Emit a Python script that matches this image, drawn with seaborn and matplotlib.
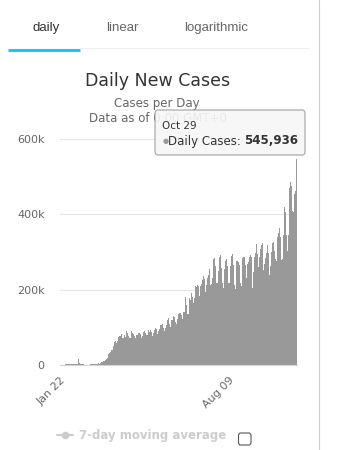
import matplotlib
matplotlib.use('Agg')
import matplotlib.pyplot as plt
import matplotlib.patches as mpatches
import matplotlib.lines as mlines
import seaborn as sns
import pandas as pd

# daily new cases worldwide 2020, in thousands, one list per month
jan = [0.1, 0.3, 0.3, 0.7, 0.8, 0.8, 1.8, 1.5, 2.0, 2.1]
feb = [2.6, 2.8, 3.2, 3.9, 3.7, 3.2, 3.4, 2.7, 3.1, 2.6, 2.0, 2.0,
       15.1, 6.5, 2.1, 2.6, 2.1, 1.9, 1.8, 0.6, 1.0, 0.8, 0.7, 0.9,
       1.0, 1.2, 1.4, 1.9, 1.8]
mar = [2.0, 2.2, 2.5, 2.3, 2.8, 3.9, 4.0, 3.9, 4.0, 4.6, 7.3, 7.5,
       10.6, 10.9, 11.0, 14.0, 16.5, 19.1, 28.4, 32.5, 31.2, 33.5, 41.0,
       40.6, 49.4, 62.0, 63.0, 64.5, 58.6, 63.5, 74.5]
apr = [76.2, 78.0, 82.4, 82.0, 73.0, 72.8, 78.9, 73.5, 86.0, 89.7, 85.6,
       77.5, 70.6, 72.3, 81.0, 90.8, 84.5, 81.7, 77.6, 72.1, 76.3, 80.9,
       80.3, 85.0, 86.0, 82.3, 71.0, 70.6, 76.0, 86.7]
may = [89.9, 84.5, 79.2, 78.4, 80.9, 93.0, 88.6, 92.3, 86.7, 77.9, 75.8,
       85.8, 93.9, 98.4, 96.5, 93.1, 82.0, 90.5, 96.7, 105.2, 107.5, 109.2,
       104.6, 97.9, 89.4, 98.0, 105.5, 119.2, 127.2, 124.7, 109.3]
jun = [101.7, 118.4, 120.7, 128.1, 130.3, 128.4, 113.6, 108.1, 122.4, 136.6,
       139.5, 138.1, 137.1, 133.3, 121.4, 140.1, 142.3, 140.5, 181.5, 158.7,
       134.2, 134.6, 168.8, 177.6, 172.5, 192.3, 181.7, 164.3, 158.8, 178.4]
jul = [210.4, 207.4, 211.9, 208.5, 183.9, 172.4, 211.0, 215.5, 226.9, 236.8,
       228.8, 195.6, 193.8, 213.0, 230.8, 237.7, 255.3, 238.2, 213.2, 216.0,
       232.0, 282.0, 284.6, 289.4, 264.0, 218.8, 219.0, 250.1, 286.8, 290.8,
       293.5]
aug = [258.5, 217.5, 205.1, 255.7, 275.4, 284.6, 281.2, 263.1, 216.6, 218.3,
       261.6, 283.8, 289.8, 293.8, 266.2, 211.8, 202.7, 258.5, 275.9, 277.3,
       273.7, 266.3, 218.1, 210.8, 260.7, 285.2, 286.2, 286.5, 266.8, 231.3,
       228.8]
sep = [268.9, 273.5, 285.6, 292.2, 285.7, 239.3, 205.0, 246.5, 287.0, 297.9,
       322.0, 295.4, 254.8, 260.5, 286.6, 306.9, 317.7, 323.0, 290.4, 253.3,
       268.3, 283.9, 298.3, 319.7, 327.9, 296.8, 238.0, 262.4, 299.1, 323.0]
oct_ = [318.0, 326.0, 302.8, 282.5, 276.7, 338.7, 350.9, 366.3, 362.4, 341.0,
        278.6, 281.0, 346.0, 385.8, 418.2, 407.1, 346.0, 302.0, 345.2, 413.5,
        470.0, 487.0, 475.0, 410.0, 405.0, 415.0, 455.0, 462.0, 545.936]

tabs = ['daily', 'linear', 'logarithmic']
tick_days = [0, 200]
tick_labels = ['Jan 22', 'Aug 09']
y_ticks = [0, 200, 400, 600]
y_labels = ['0', '200k', '400k', '600k']

cases = jan + feb + mar + apr + may + jun + jul + aug + sep + oct_
dates = pd.date_range('2020-01-22', periods=len(cases))
df = pd.DataFrame({'date': dates.strftime('%b %d'), 'cases': cases})

sns.set_theme(style='white')
plt.rcParams['font.family'] = ['DejaVu Sans']

W, H = 351, 450
fig = plt.figure(figsize=(W / 100, H / 100), dpi=100)


def fx(px):
    return px / W


def fy(py):
    return 1 - py / H


# tabs on top
tab_x = [46, 122, 216]
for t, x in zip(tabs, tab_x):
    fig.text(fx(x), fy(28), t, ha='center', va='center', fontsize=9.5,
             family='Liberation Sans', color='#333333' if t == 'daily' else '#666666')
fig.add_artist(mlines.Line2D([fx(80), fx(308)], [fy(48), fy(48)], color='#eeeeee', lw=0.8))
fig.add_artist(mlines.Line2D([fx(8), fx(80)], [fy(49.5), fy(49.5)], color='#1cc4f2', lw=2.2,
                             solid_capstyle='butt'))
fig.add_artist(mlines.Line2D([fx(319), fx(319)], [0, 1], color='#cccccc', lw=0.8))

# titles
fig.text(fx(158), fy(81), 'Daily New Cases', ha='center', va='center', fontsize=12.5, color='#333333')
fig.text(fx(157), fy(103), 'Cases per Day', ha='center', va='center', fontsize=8.5, color='#666666')
fig.text(fx(158), fy(119), 'Data as of 0:00 GMT+0', ha='center', va='center', fontsize=8.5,
         color='#666666')

# bars
ax = fig.add_axes([fx(60), fy(365), fx(297) - fx(60), fy(139) - fy(365)])
sns.barplot(data=df, x='date', y='cases', color='#999999', width=1.0, linewidth=0,
            saturation=1, errorbar=None, ax=ax)
ax.set_xlim(-0.5, len(cases) - 0.5)
ax.set_ylim(0, 600)
ax.set_yticks(y_ticks)
ax.set_yticklabels(y_labels)
ax.set_xticks(tick_days)
ax.set_xticklabels(tick_labels, rotation=45, ha='right', rotation_mode='anchor')
ax.set_xlabel('')
ax.set_ylabel('')
ax.yaxis.grid(True, color='#e6e6e6', lw=0.8)
ax.set_axisbelow(True)
for s in ['left', 'right', 'top']:
    ax.spines[s].set_visible(False)
ax.spines['bottom'].set_color('#ccd6eb')
ax.spines['bottom'].set_linewidth(0.8)
ax.tick_params(axis='y', length=0, pad=11, labelsize=8, labelcolor='#666666')
ax.tick_params(axis='x', length=0, pad=7, labelsize=8, labelcolor='#666666')

# tooltip
box = mpatches.FancyBboxPatch((fx(155), fy(155)), fx(305) - fx(155), fy(110) - fy(155),
                              boxstyle='round,pad=0,rounding_size=0.008',
                              transform=fig.transFigure, facecolor='#f7f7f7', alpha=0.9,
                              edgecolor='#999999', lw=0.8, zorder=5)
fig.add_artist(box)
fig.text(fx(162), fy(126), 'Oct 29', ha='left', va='center', fontsize=7.5, color='#333333', zorder=6)
fig.text(fx(163), fy(141), '●', ha='left', va='center', fontsize=5, color='#999999', zorder=6)
lbl = fig.text(fx(168), fy(141), 'Daily Cases:', ha='left', va='center', fontsize=8.5,
               color='#333333', zorder=6)
renderer = fig.canvas.get_renderer()
lbl_end = lbl.get_window_extent(renderer).x1
fig.text(fx(lbl_end + 3), fy(141), f'{oct_[-1] * 1000:,.0f}', ha='left', va='center',
         fontsize=8.5, fontweight='bold', color='#333333', zorder=6)

# legend
fig.add_artist(mlines.Line2D([fx(57), fx(73)], [fy(435), fy(435)], color='#cccccc', lw=1.5,
                             zorder=5))
fig.add_artist(mlines.Line2D([fx(65)], [fy(435)], color='#cccccc', marker='o', markersize=4.5,
                             lw=0))
fig.text(fx(79), fy(435), '7-day moving average', ha='left', va='center', fontsize=8.5,
         fontweight='bold', color='#cccccc')
cb = mpatches.FancyBboxPatch((fx(238.5), fy(445)), fx(251) - fx(238.5), fy(433) - fy(445),
                             boxstyle='round,pad=0,rounding_size=0.006',
                             transform=fig.transFigure, facecolor='white',
                             edgecolor='#555555', lw=0.8)
fig.add_artist(cb)

fig.savefig('out.png', dpi=100)
